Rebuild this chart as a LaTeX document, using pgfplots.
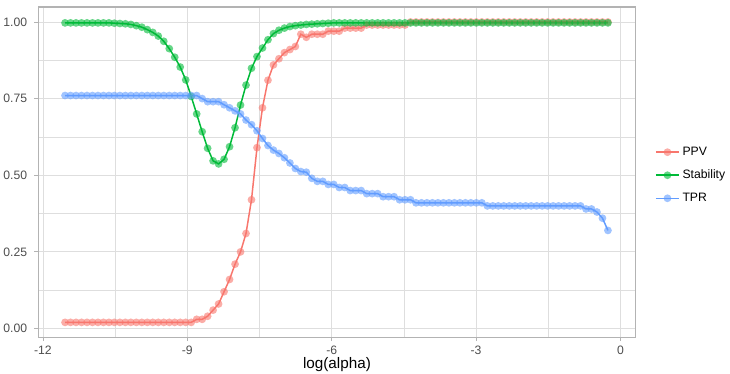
\documentclass[border=0pt]{standalone}
\usepackage{fontspec}
\setmainfont{Liberation Sans}
\usepackage{pgfplots}
\usepackage{pgfplotstable}
\pgfplotsset{compat=1.18}
\definecolor{cPPV}{HTML}{F8766D}
\definecolor{cStab}{HTML}{00BA38}
\definecolor{cTPR}{HTML}{619CFF}
\definecolor{gridc}{HTML}{DEDEDE}
\definecolor{borderc}{HTML}{B3B3B3}
\definecolor{tickc}{HTML}{4D4D4D}

\pgfplotstableread{
x ppv stab tpr
-11.540 0.02 0.997 0.76
-11.426 0.02 0.997 0.76
-11.312 0.02 0.997 0.76
-11.198 0.02 0.997 0.76
-11.084 0.02 0.997 0.76
-10.970 0.02 0.997 0.76
-10.856 0.02 0.997 0.76
-10.742 0.02 0.997 0.76
-10.628 0.02 0.997 0.76
-10.515 0.02 0.996 0.76
-10.401 0.02 0.995 0.76
-10.287 0.02 0.994 0.76
-10.173 0.02 0.992 0.76
-10.059 0.02 0.988 0.76
-9.945 0.02 0.983 0.76
-9.831 0.02 0.975 0.76
-9.717 0.02 0.966 0.76
-9.603 0.02 0.954 0.76
-9.489 0.02 0.937 0.76
-9.375 0.02 0.913 0.76
-9.261 0.02 0.885 0.76
-9.147 0.02 0.853 0.76
-9.033 0.02 0.811 0.76
-8.919 0.02 0.757 0.76
-8.805 0.03 0.700 0.76
-8.691 0.03 0.642 0.75
-8.578 0.04 0.588 0.74
-8.464 0.06 0.547 0.74
-8.350 0.08 0.537 0.74
-8.236 0.12 0.552 0.73
-8.122 0.16 0.593 0.72
-8.008 0.21 0.655 0.71
-7.894 0.25 0.729 0.70
-7.780 0.31 0.794 0.68
-7.666 0.42 0.849 0.665
-7.552 0.59 0.887 0.645
-7.438 0.72 0.915 0.62
-7.324 0.81 0.942 0.597
-7.210 0.86 0.962 0.582
-7.096 0.88 0.973 0.571
-6.982 0.90 0.980 0.557
-6.868 0.91 0.985 0.540
-6.755 0.92 0.988 0.522
-6.641 0.96 0.990 0.512
-6.527 0.95 0.992 0.51
-6.413 0.96 0.993 0.49
-6.299 0.96 0.994 0.48
-6.185 0.96 0.995 0.48
-6.071 0.97 0.996 0.47
-5.957 0.97 0.997 0.47
-5.843 0.97 0.997 0.46
-5.729 0.98 0.997 0.46
-5.615 0.98 0.997 0.45
-5.501 0.98 0.997 0.45
-5.387 0.98 0.997 0.45
-5.273 0.99 0.997 0.44
-5.159 0.99 0.997 0.44
-5.045 0.99 0.997 0.44
-4.932 0.99 0.997 0.43
-4.818 0.99 0.997 0.43
-4.704 0.99 0.997 0.43
-4.590 0.99 0.997 0.42
-4.476 0.99 0.997 0.42
-4.362 1.00 0.997 0.42
-4.248 1.00 0.997 0.41
-4.134 1.00 0.997 0.41
-4.020 1.00 0.997 0.41
-3.906 1.00 0.997 0.41
-3.792 1.00 0.997 0.41
-3.678 1.00 0.997 0.41
-3.564 1.00 0.997 0.41
-3.450 1.00 0.997 0.41
-3.336 1.00 0.997 0.41
-3.222 1.00 0.997 0.41
-3.108 1.00 0.997 0.41
-2.994 1.00 0.997 0.41
-2.880 1.00 0.997 0.41
-2.766 1.00 0.997 0.40
-2.652 1.00 0.997 0.40
-2.539 1.00 0.997 0.40
-2.425 1.00 0.997 0.40
-2.311 1.00 0.997 0.40
-2.197 1.00 0.997 0.40
-2.083 1.00 0.997 0.40
-1.969 1.00 0.997 0.40
-1.855 1.00 0.997 0.40
-1.741 1.00 0.997 0.40
-1.627 1.00 0.997 0.40
-1.513 1.00 0.997 0.40
-1.399 1.00 0.997 0.40
-1.285 1.00 0.997 0.40
-1.171 1.00 0.997 0.40
-1.057 1.00 0.997 0.40
-0.943 1.00 0.997 0.40
-0.829 1.00 0.997 0.40
-0.716 1.00 0.997 0.39
-0.602 1.00 0.997 0.39
-0.488 1.00 0.997 0.38
-0.374 1.00 0.997 0.36
-0.260 1.00 0.997 0.32
}\datatable

\begin{document}
\begin{tikzpicture}
\useasboundingbox (-27.4bp,-25.9bp) rectangle (497.5bp,242.6bp);
\begin{axis}[
  at={(0,0)}, anchor=south west,
  scale only axis, width=429.8bp, height=237.6bp,
  xmin=-12.1, xmax=0.32, ymin=-0.029, ymax=1.049,
  xtick={-12,-9,-6,-3,0}, xticklabels={-12,-9,-6,-3,0},
  minor xtick={-10.5,-7.5,-4.5,-1.5},
  ytick={0,0.25,0.5,0.75,1}, yticklabels={0.00,0.25,0.50,0.75,1.00},
  minor ytick={0.125,0.375,0.625,0.875},
  grid=both,
  major grid style={gridc, line width=0.55bp},
  minor grid style={gridc, line width=0.28bp},
  axis line style={borderc, line width=0.8bp},
  tick style={borderc, line width=0.55bp},
  major tick length=2.75pt, minor tick length=0pt,
  tick align=outside,
  xtick pos=bottom, ytick pos=left,
  ticklabel style={font=\fontsize{8.8}{10}\selectfont, text=tickc, inner sep=0pt},
  xticklabel style={anchor=north, yshift=-2.9pt},
  yticklabel style={anchor=east, xshift=-4.95pt},
  xlabel={log(alpha)},
  xlabel style={font=\fontsize{11}{13}\selectfont, at={(axis description cs:0.5,0)}, anchor=center, yshift=-19.5bp},
  legend style={at={(1,0.5)}, anchor=west, xshift=13.7bp, yshift=-2.2bp, draw=none, fill=none,
    font=\fontsize{8.8}{10}\selectfont, row sep=4.9bp, inner sep=0pt,
    /tikz/every even column/.append style={column sep=8bp}},
  legend cell align=left,
  legend image code/.code={\draw[mark repeat=2,mark phase=2,#1] plot coordinates {(0bp,0bp) (8.3bp,0bp) (16.6bp,0bp)};},
]
\addplot[cPPV, line width=1.07bp, mark=*, mark size=2.8bp, mark options={solid, line width=0pt, draw opacity=0, fill=cPPV, fill opacity=0.6}] table[x=x, y=ppv] {\datatable};
\addlegendentry{PPV}
\addplot[cStab, line width=1.07bp, mark=*, mark size=2.8bp, mark options={solid, line width=0pt, draw opacity=0, fill=cStab, fill opacity=0.6}] table[x=x, y=stab] {\datatable};
\addlegendentry{Stability}
\addplot[cTPR, line width=1.07bp, mark=*, mark size=2.8bp, mark options={solid, line width=0pt, draw opacity=0, fill=cTPR, fill opacity=0.6}] table[x=x, y=tpr] {\datatable};
\addlegendentry{TPR}
\end{axis}
\end{tikzpicture}
\end{document}
